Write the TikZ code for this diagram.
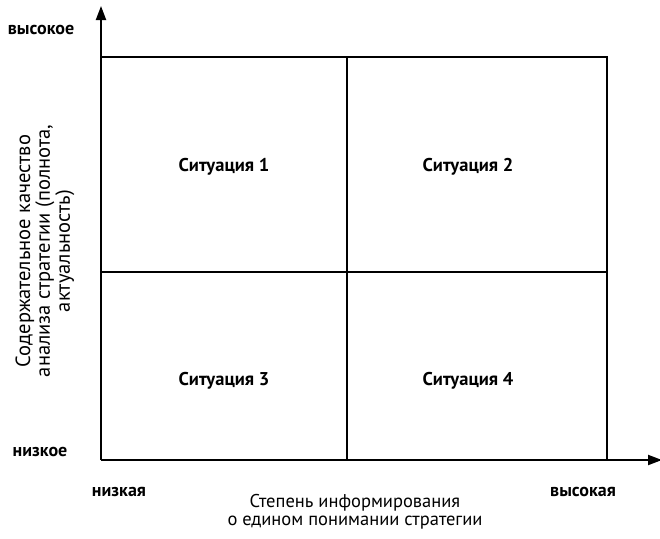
\documentclass[tikz,border=0pt]{standalone}
\usepackage{fontspec}
\setmainfont{PT Sans}
\usetikzlibrary{arrows.meta}
\begin{document}
\begin{tikzpicture}[x=1pt,y=-1pt,
  ln/.style={line width=2pt},
  axis/.style={line width=2pt,-{Triangle[length=14pt,width=10pt]}},
  sit/.style={font=\fontsize{18.5}{20}\selectfont\bfseries},
  endlab/.style={font=\fontsize{18}{20}\selectfont\bfseries},
  ttl/.style={font=\fontsize{18.5}{18}\selectfont,align=center,inner sep=0pt}]
\useasboundingbox (0,0) rectangle (660,538);
\coordinate (O) at (101,460);
\coordinate (Ytip) at (101,6);
\coordinate (Xtip) at (662,460);
\coordinate (TL) at (101,57);
\coordinate (TR) at (607,57);
\coordinate (BR) at (607,460);
\coordinate (TM) at (347,57);
\coordinate (BM) at (347,460);
\coordinate (ML) at (101,272);
\coordinate (MR) at (607,272);
\draw[ln] (TL) -- (TR) -- (BR);
\draw[ln] (TM) -- (BM);
\draw[ln] (ML) -- (MR);
\draw[axis] (O) -- (Ytip);
\draw[axis] (O) -- (Xtip);
\node[sit] (s1) at (224,167) {Ситуация 1};
\node[sit] (s2) at (468,167) {Ситуация 2};
\node[sit] (s3) at (224,381) {Ситуация 3};
\node[sit] (s4) at (468,381) {Ситуация 4};
\node[endlab] (hi) at (41,30) {высокое};
\node[endlab] (lo) at (40,452) {низкое};
\node[endlab] (xl) at (119,492) {низкая};
\node[endlab] (xh) at (583,492) {высокая};
\node[ttl] (xt) at (355,512) {Степень информирования\\о едином понимании стратегии};
\node[ttl,rotate=90,font=\fontsize{20.5}{17}\selectfont] (yt) at (45,251) {Содержательное качество\\анализа стратегии (полнота,\\актуальность)};
\end{tikzpicture}
\end{document}
